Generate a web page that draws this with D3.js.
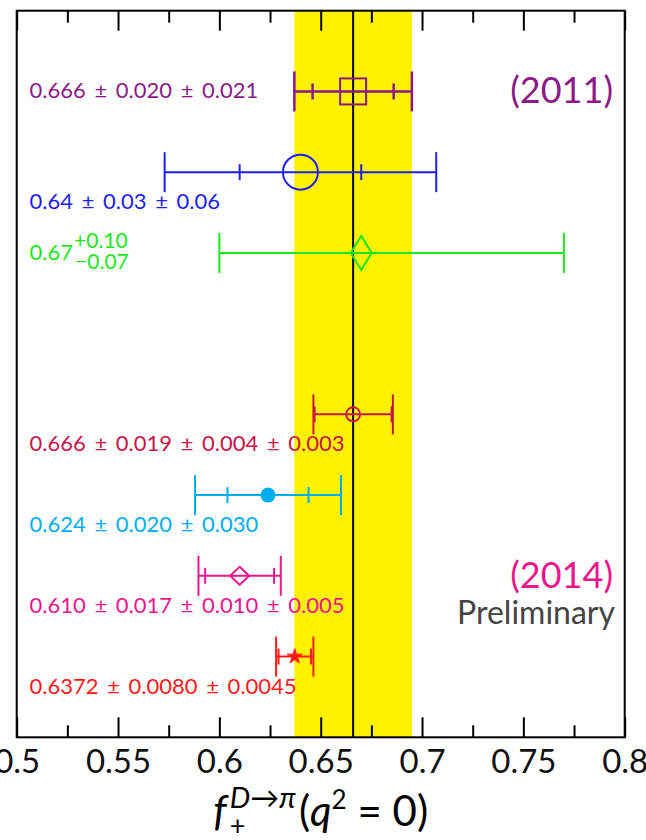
<!DOCTYPE html>
<html><head><meta charset="utf-8">
<script src="https://cdn.jsdelivr.net/npm/d3@7"></script>
<style>body{margin:0;background:#fff;overflow:hidden}</style>
</head><body><svg id="c" width="646" height="840"></svg>
<script>
// ---------------- data ----------------
const measurements = ["2011 A", "2011 B", "2011 C", "2014 A", "2014 B", "2014 C", "2014 D"];
const values   = [0.666, 0.64, 0.67, 0.666, 0.624, 0.610, 0.6372];
const rows     = [0, 1, 2, 4, 5, 6, 7];
const errLow   = [0.029, 0.067, 0.07, 0.0196, 0.036, 0.0203, 0.0092];
const errHigh  = [0.029, 0.067, 0.10, 0.0196, 0.036, 0.0203, 0.0092];
const statErr  = [0.020, 0.03, null, 0.019, 0.020, 0.017, 0.008];
const labels   = ["0.666 ± 0.020 ± 0.021", "0.64 ± 0.03 ± 0.06", "0.67",
                  "0.666 ± 0.019 ± 0.004 ± 0.003", "0.624 ± 0.020 ± 0.030",
                  "0.610 ± 0.017 ± 0.010 ± 0.005", "0.6372 ± 0.0080 ± 0.0045"];
const greenSup = "+0.10", greenSub = "−0.07";
const bandRange = [0.637, 0.695];
const average = 0.666;
const xTickValues = [0.5, 0.55, 0.6, 0.65, 0.7, 0.75, 0.8];
const xTickLabels = ["0.5", "0.55", "0.6", "0.65", "0.7", "0.75", "0.8"];
const xMinorTicks = [0.525, 0.575, 0.625, 0.675, 0.725, 0.775];

// ---------------- styles ----------------
const colors  = ["#8b1a89", "#1f1ff0", "#1ee61e", "#c8164a", "#00aeef", "#ea168e", "#ff1a1a"];
const markers = ["square", "circle", "diamond", "circle", "dot", "diamond", "star"];
const msize   = [[13,13], [17.5,17.5], [10.5,17], [7,7], [7.5,7.5], [9.5,9], [9,9]];
const labelInline = [true, false, true, false, false, false, false];
const FONT = "Lato, 'Open Sans', sans-serif";

const L = 16.7, R = 624.7, T = 10.7, B = 737.3;
const svg = d3.select("#c");
const x = d3.scaleLinear().domain([0.5, 0.8]).range([L, R]);
const y = d3.scaleLinear().domain([-1, 8]).range([T, B]);

// band
svg.append("rect").attr("x", x(bandRange[0])).attr("width", x(bandRange[1]) - x(bandRange[0]))
  .attr("y", T).attr("height", B - T).attr("fill", "#fff200");
// central line
svg.append("line").attr("x1", x(average)).attr("x2", x(average)).attr("y1", T).attr("y2", B)
  .attr("stroke", "#000").attr("stroke-width", 2);

// axes (ticks inward)
function styleAxis(g) {
  g.select(".domain").remove();
  g.selectAll(".tick line").attr("stroke", "#000").attr("stroke-width", 2);
}
svg.append("g").attr("transform", `translate(0,${B})`)
  .call(d3.axisBottom(x).tickValues(xTickValues).tickSize(-20).tickPadding(32)
    .tickFormat((d, i) => xTickLabels[i]))
  .call(styleAxis)
  .call(g => g.selectAll(".tick text").attr("font-family", FONT).attr("font-size", 33)
    .attr("fill", "#111").attr("dy", "0.1em"));
svg.append("g").attr("transform", `translate(0,${B})`)
  .call(d3.axisBottom(x).tickValues(xMinorTicks).tickSize(-12).tickFormat(""))
  .call(styleAxis);
svg.append("g").attr("transform", `translate(0,${T})`)
  .call(d3.axisTop(x).tickValues(xTickValues).tickSize(-20).tickFormat(""))
  .call(styleAxis);
svg.append("g").attr("transform", `translate(0,${T})`)
  .call(d3.axisTop(x).tickValues(xMinorTicks).tickSize(-12).tickFormat(""))
  .call(styleAxis);

// frame
svg.append("rect").attr("x", L).attr("y", T).attr("width", R - L).attr("height", B - T)
  .attr("fill", "none").attr("stroke", "#000").attr("stroke-width", 2);

// measurements
values.forEach((v, i) => {
  const g = svg.append("g");
  const cy = y(rows[i]);
  const c = colors[i];
  const lo = x(v - errLow[i]), hi = x(v + errHigh[i]);
  const sw = i === 0 ? 2.5 : 2;
  g.append("line").attr("x1", lo).attr("x2", hi).attr("y1", cy).attr("y2", cy)
    .attr("stroke", c).attr("stroke-width", sw);
  [lo, hi].forEach(px => g.append("line").attr("x1", px).attr("x2", px)
    .attr("y1", cy - 20).attr("y2", cy + 20).attr("stroke", c).attr("stroke-width", sw));
  if (statErr[i] != null) {
    [x(v - statErr[i]), x(v + statErr[i])].forEach(px => g.append("line")
      .attr("x1", px).attr("x2", px).attr("y1", cy - 8).attr("y2", cy + 8)
      .attr("stroke", c).attr("stroke-width", sw));
  }
  const cx = x(v);
  const [a, b] = msize[i];
  const m = markers[i];
  if (m === "square") {
    g.append("rect").attr("x", cx - a).attr("y", cy - b).attr("width", 2 * a).attr("height", 2 * b)
      .attr("fill", "none").attr("stroke", c).attr("stroke-width", 2);
  } else if (m === "circle") {
    g.append("circle").attr("cx", cx).attr("cy", cy).attr("r", a)
      .attr("fill", "none").attr("stroke", c).attr("stroke-width", 2);
  } else if (m === "dot") {
    g.append("circle").attr("cx", cx).attr("cy", cy).attr("r", a).attr("fill", c);
  } else if (m === "diamond") {
    const p = d3.path();
    p.moveTo(cx, cy - b); p.lineTo(cx + a, cy); p.lineTo(cx, cy + b); p.lineTo(cx - a, cy); p.closePath();
    g.append("path").attr("d", p.toString()).attr("fill", "none").attr("stroke", c).attr("stroke-width", 2);
  } else if (m === "star") {
    g.append("path").attr("d", d3.symbol(d3.symbolStar, 70)())
      .attr("transform", `translate(${cx},${cy})`).attr("fill", c)
      .attr("stroke", c).attr("stroke-width", 1);
  }
  // label
  const ty = labelInline[i] ? cy + 7 : cy + 37;
  const t = g.append("text").attr("x", 29.6).attr("y", ty).attr("fill", c)
    .attr("font-family", FONT).attr("font-size", 22).attr("word-spacing", 3)
    .text(labels[i]);
  if (i === 2) {
    const w = t.node().getComputedTextLength();
    g.append("text").attr("x", 29.6 + w + 1).attr("y", cy - 5).attr("fill", c)
      .attr("font-family", FONT).attr("font-size", 21).text(greenSup);
    g.append("text").attr("x", 29.6 + w + 2).attr("y", cy + 16).attr("fill", c)
      .attr("font-family", FONT).attr("font-size", 21).text(greenSub);
  }
});

// year labels
svg.append("text").attr("x", 613).attr("y", 103).attr("text-anchor", "end")
  .attr("font-family", FONT).attr("font-size", 36).attr("fill", colors[0]).text("(2011)");
svg.append("text").attr("x", 613).attr("y", 588).attr("text-anchor", "end")
  .attr("font-family", FONT).attr("font-size", 36).attr("fill", colors[5]).text("(2014)");
svg.append("text").attr("x", 615).attr("y", 624).attr("text-anchor", "end")
  .attr("font-family", FONT).attr("font-size", 32).attr("fill", "#444").text("Preliminary");

// axis title  f_+^{D→π}(q^2 = 0)
const tg = svg.append("g");
const f = tg.append("text").attr("x", 0).attr("y", 0).attr("font-family", FONT)
  .attr("font-size", 42).attr("font-style", "italic").text("f");
const fw = f.node().getComputedTextLength();
const sup = tg.append("text").attr("x", fw + 3).attr("y", -18).attr("font-family", FONT).attr("font-size", 29);
sup.append("tspan").attr("font-style", "italic").text("D");
sup.append("tspan").text("→");
sup.append("tspan").attr("font-style", "italic").text("π");
tg.append("text").attr("x", fw + 3).attr("y", 9).attr("font-family", FONT).attr("font-size", 27).text("+");
const sw2 = sup.node().getComputedTextLength();
const rest = tg.append("text").attr("x", fw + 3 + sw2 + 3).attr("y", 0).attr("font-family", FONT).attr("font-size", 42);
rest.append("tspan").text("(");
rest.append("tspan").attr("font-style", "italic").text("q");
rest.append("tspan").attr("font-size", 26).attr("dy", -17).text("2");
rest.append("tspan").attr("dy", 17).attr("xml:space", "preserve").text(" = 0)");
const bb = tg.node().getBBox();
tg.attr("transform", `translate(${(L + R) / 2 - bb.width / 2 - bb.x},826)`);
</script></body></html>
